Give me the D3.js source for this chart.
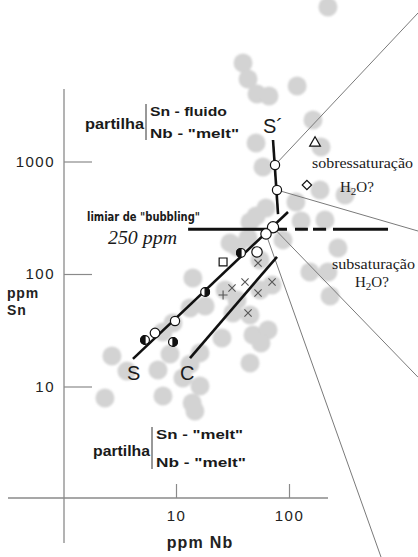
<!DOCTYPE html>
<html>
<head>
<meta charset="utf-8">
<script src="https://cdn.jsdelivr.net/npm/d3@7/dist/d3.min.js"></script>
<style>
  html, body { margin: 0; padding: 0; background: #fff; }
  svg { display: block; }
</style>
</head>
<body>
<svg id="chart" width="418" height="557"></svg>
<script>
// ---------- data (ppm) ----------
// background cloud of analyses (grey discs)
const cloudNb = [221, 39.2, 43.4, 52.1, 66.5, 118, 163, 51.1, 192, 58.9, 188, 313, 115, 62.6, 51.1, 45.2,
  128, 208, 88.5, 271, 153, 221, 231, 30.1, 43.4, 14.1, 27.2, 34.7, 55.4, 70.8, 9.40, 13.3, 18.1, 31.9,
  45.2, 7.67, 25.5, 48.0, 65.2, 56.5, 2.71, 8.85, 16.3, 13.3, 45.2, 3.68, 6.93, 11.5, 16.3, 2.35, 7.67,
  13.9, 14.7, 34.7, 55.4];
const cloudSn = [23600, 7510, 5410, 3980, 3820, 4690, 2340, 1460, 1345, 894, 558, 504, 437, 386, 328, 290,
  296, 302, 201, 170, 104, 104, 63.7, 189, 209, 92.1, 72.1, 58.7, 72.1, 79.8, 36.7, 49.9, 51.9, 45.0,
  43.2, 30.5, 27.0, 28.7, 31.8, 24.4, 18.7, 19.4, 19.9, 15.8, 16.2, 13.7, 14.0, 11.9, 10.1, 7.90, 8.24,
  7.13, 6.05, 174, 133];

// open circles
const openNb = [75.2, 78.3, 72.2, 62.6, 9.8, 6.52, 52.1];
const openSn = [931, 558, 260, 227, 38.2, 29.9, 157];
const openR  = [4.6, 4.6, 5.6, 5.2, 4.6, 4.8, 5.2];
// half-filled circles (side = filled half)
const halfNb = [5.32, 9.40, 18.1, 37.6];
const halfSn = [25.9, 24.9, 69.2, 154];
const halfSide = ["left", "right", "right", "left"];
// other symbols
const squareNb = [26.1],  squareSn = [128];
const triNb = [170],      triSn = [1460];
const diamondNb = [144],  diamondSn = [618];
const crossNb = [31.3, 40.8, 53.2, 70.8, 43.4, 53.2];
const crossSn = [75.1, 84.9, 67.8, 84.9, 45.0, 125];
const plusNb = [26.1],    plusSn = [65.1];

// trend lines S, C and S'
const sLineNb = [4.16, 98],   sLineSn = [17.6, 356];
const cLineNb = [13.3, 78.3], cLineSn = [17.9, 142];
const spLineNb = [72.2, 80],  spLineSn = [1553, 341];

// bubbling threshold at 250 ppm Sn (solid, then dashed pieces)
const bubblingSn = 250;
const bubblingSegNb = [[12.8, 96], [113, 147], [163, 213], [245, 752]];

// thin field boundaries radiating from the S' points
const rayFromNb = [75.2, 78.3, 72.2, 62.6];
const rayFromSn = [931, 558, 260, 227];
const rayToNb   = [1386, 1386, 1386, 652];
const rayToSn   = [20900, 241, 12.1, 0.305];

// axes
const nbTicks = [10, 100];
const snTicks = [10, 100, 1000];

// ---------- scales ----------
const svg = d3.select("#chart");
const x = d3.scaleLog().domain([1, 10]).range([63, 176]);
const y = d3.scaleLog().domain([1, 10]).range([499, 386.5]);

const defs = svg.append("defs");
defs.append("filter").attr("id", "soft")
  .attr("x", "-30%").attr("y", "-30%").attr("width", "160%").attr("height", "160%")
  .append("feGaussianBlur").attr("stdDeviation", 1.1);

// ---------- grey cloud ----------
svg.append("g").attr("filter", "url(#soft)")
  .selectAll("circle").data(d3.range(cloudNb.length)).join("circle")
  .attr("cx", i => x(cloudNb[i])).attr("cy", i => y(cloudSn[i]))
  .attr("r", 9.5).attr("fill", "#d3d3d3");

// ---------- axes ----------
const axisColor = "#8a8a8a";
svg.append("line").attr("x1", 64).attr("x2", 64).attr("y1", 89).attr("y2", 543)
  .attr("stroke", axisColor).attr("stroke-width", 1.3);
svg.append("line").attr("x1", 8).attr("x2", 328).attr("y1", 498).attr("y2", 498)
  .attr("stroke", axisColor).attr("stroke-width", 1.3);

const yAxis = svg.append("g").attr("transform", "translate(64,0)")
  .call(d3.axisLeft(y).tickValues(snTicks).tickFormat(d3.format("d")).tickSize(-28).tickPadding(9));
const xAxis = svg.append("g").attr("transform", "translate(0,498)")
  .call(d3.axisBottom(x).tickValues(nbTicks).tickFormat(d3.format("d")).tickSize(-14).tickPadding(12));
[yAxis, xAxis].forEach(g => {
  g.select(".domain").remove();
  g.selectAll(".tick line").attr("stroke", axisColor).attr("stroke-width", 1.2);
  g.selectAll(".tick text").attr("fill", "#222")
    .style("font", "15px 'Liberation Sans', Arial, sans-serif").style("letter-spacing", "1.5px");
});

svg.append("text").attr("x", 200).attr("y", 548).attr("text-anchor", "middle")
  .style("font", "bold 16px 'Liberation Sans', Arial, sans-serif").style("letter-spacing", "1.2px")
  .attr("fill", "#222").text("ppm Nb");
const yl = svg.append("text").attr("fill", "#222")
  .style("font", "bold 14px 'Liberation Sans', Arial, sans-serif").style("letter-spacing", "0.8px");
yl.append("tspan").attr("x", 7).attr("y", 298).text("ppm");
yl.append("tspan").attr("x", 7).attr("y", 315).text("Sn");

// ---------- thin boundary rays ----------
svg.append("g").selectAll("line").data(d3.range(rayFromNb.length)).join("line")
  .attr("x1", i => x(rayFromNb[i])).attr("y1", i => y(rayFromSn[i]))
  .attr("x2", i => x(rayToNb[i])).attr("y2", i => y(rayToSn[i]))
  .attr("stroke", "#7a7a7a").attr("stroke-width", 1);

// ---------- thick lines ----------
const thick = svg.append("g").attr("stroke", "#111").attr("stroke-width", 2.6).attr("stroke-linecap", "butt");
[[sLineNb, sLineSn], [cLineNb, cLineSn], [spLineNb, spLineSn]].forEach(([nb, sn]) => {
  thick.append("line").attr("x1", x(nb[0])).attr("y1", y(sn[0])).attr("x2", x(nb[1])).attr("y2", y(sn[1]));
});
thick.selectAll("line.bub").data(bubblingSegNb).join("line").attr("class", "bub")
  .attr("x1", d => x(d[0])).attr("x2", d => x(d[1]))
  .attr("y1", y(bubblingSn)).attr("y2", y(bubblingSn)).attr("stroke-width", 3);

// ---------- symbols ----------
const marks = svg.append("g").attr("stroke", "#111").attr("stroke-width", 1.2);
marks.selectAll("circle.open").data(d3.range(openNb.length)).join("circle").attr("class", "open")
  .attr("cx", i => x(openNb[i])).attr("cy", i => y(openSn[i])).attr("r", i => openR[i]).attr("fill", "#fff");

d3.range(halfNb.length).forEach(i => {
  const cx = x(halfNb[i]), cy = y(halfSn[i]), r = 4.4;
  marks.append("circle").attr("cx", cx).attr("cy", cy).attr("r", r).attr("fill", "#fff");
  const sweep = halfSide[i] === "left" ? 0 : 1;
  marks.append("path")
    .attr("d", `M${cx},${cy - r}A${r},${r} 0 0 ${sweep} ${cx},${cy + r}Z`)
    .attr("fill", "#111");
});

marks.selectAll("path.sq").data(d3.range(squareNb.length)).join("path").attr("class", "sq")
  .attr("d", d3.symbol(d3.symbolSquare, 62)).attr("fill", "#fff")
  .attr("transform", i => `translate(${x(squareNb[i])},${y(squareSn[i])})`);
marks.selectAll("path.tri").data(d3.range(triNb.length)).join("path").attr("class", "tri")
  .attr("d", d3.symbol(d3.symbolTriangle, 50)).attr("fill", "#fff")
  .attr("transform", i => `translate(${x(triNb[i])},${y(triSn[i])})`);
marks.selectAll("path.dia").data(d3.range(diamondNb.length)).join("path").attr("class", "dia")
  .attr("d", d3.symbol(d3.symbolSquare, 44)).attr("fill", "#fff")
  .attr("transform", i => `translate(${x(diamondNb[i])},${y(diamondSn[i])}) rotate(45)`);

const crosses = svg.append("g").attr("stroke", "#555").attr("stroke-width", 1.1);
crosses.selectAll("path.x").data(d3.range(crossNb.length)).join("path").attr("class", "x")
  .attr("d", "M-3.6,-3.6L3.6,3.6M-3.6,3.6L3.6,-3.6")
  .attr("transform", i => `translate(${x(crossNb[i])},${y(crossSn[i])})`);
crosses.selectAll("path.p").data(d3.range(plusNb.length)).join("path").attr("class", "p")
  .attr("d", "M-4.5,0L4.5,0M0,-4.5L0,4.5")
  .attr("transform", i => `translate(${x(plusNb[i])},${y(plusSn[i])})`);

// ---------- annotations ----------
const sans = "'Liberation Sans', Arial, sans-serif";
const serif = "'Liberation Serif', 'Times New Roman', serif";
function label(txt, px, py, font, len, anchor) {
  const t = svg.append("text").attr("x", px).attr("y", py).attr("fill", "#1a1a1a")
    .style("font", font).text(txt);
  if (len) t.attr("textLength", len).attr("lengthAdjust", "spacingAndGlyphs");
  if (anchor) t.attr("text-anchor", anchor);
  return t;
}

// partition blocks
function partition(px, barX, barTop, barBottom, midY, l1, l2, y1, y2, len1, len2) {
  label("partilha", px, midY, `bold 14px ${sans}`, barX - px - 2);
  svg.append("line").attr("x1", barX).attr("x2", barX).attr("y1", barTop).attr("y2", barBottom)
    .attr("stroke", "#333").attr("stroke-width", 1);
  label(l1, barX + 4, y1, `bold 13px ${sans}`, len1);
  label(l2, barX + 4, y2, `bold 13px ${sans}`, len2);
}
partition(85, 146, 104, 140, 129, "Sn - fluido", "Nb - \"melt\"", 116, 138, 77, 89);
partition(93, 152, 427, 469, 456, "Sn - \"melt\"", "Nb - \"melt\"", 439, 467, 87, 90);

label("limiar de \"bubbling\"", 87, 221, `bold 13px 'DejaVu Sans Condensed', 'DejaVu Sans', sans-serif`, 113);
label("250 ppm", 108, 244, `italic 18px ${serif}`, 69);

label("S", 127, 380, `20px ${sans}`);
label("C", 180, 380, `20px ${sans}`);
label("S\u00b4", 263, 133, `20px ${sans}`);

label("sobressaturação", 312, 168, `15.5px ${serif}`, 101);
const h1 = label("H", 340, 192, `15px ${serif}`);
h1.append("tspan").attr("dy", 3).style("font-size", "11px").text("2");
h1.append("tspan").attr("dy", -3).text("O?");

label("subsaturação", 332, 269, `15.5px ${serif}`, 83);
const h2 = label("H", 355, 287, `15px ${serif}`);
h2.append("tspan").attr("dy", 3).style("font-size", "11px").text("2");
h2.append("tspan").attr("dy", -3).text("O?");
</script>
</body>
</html>
